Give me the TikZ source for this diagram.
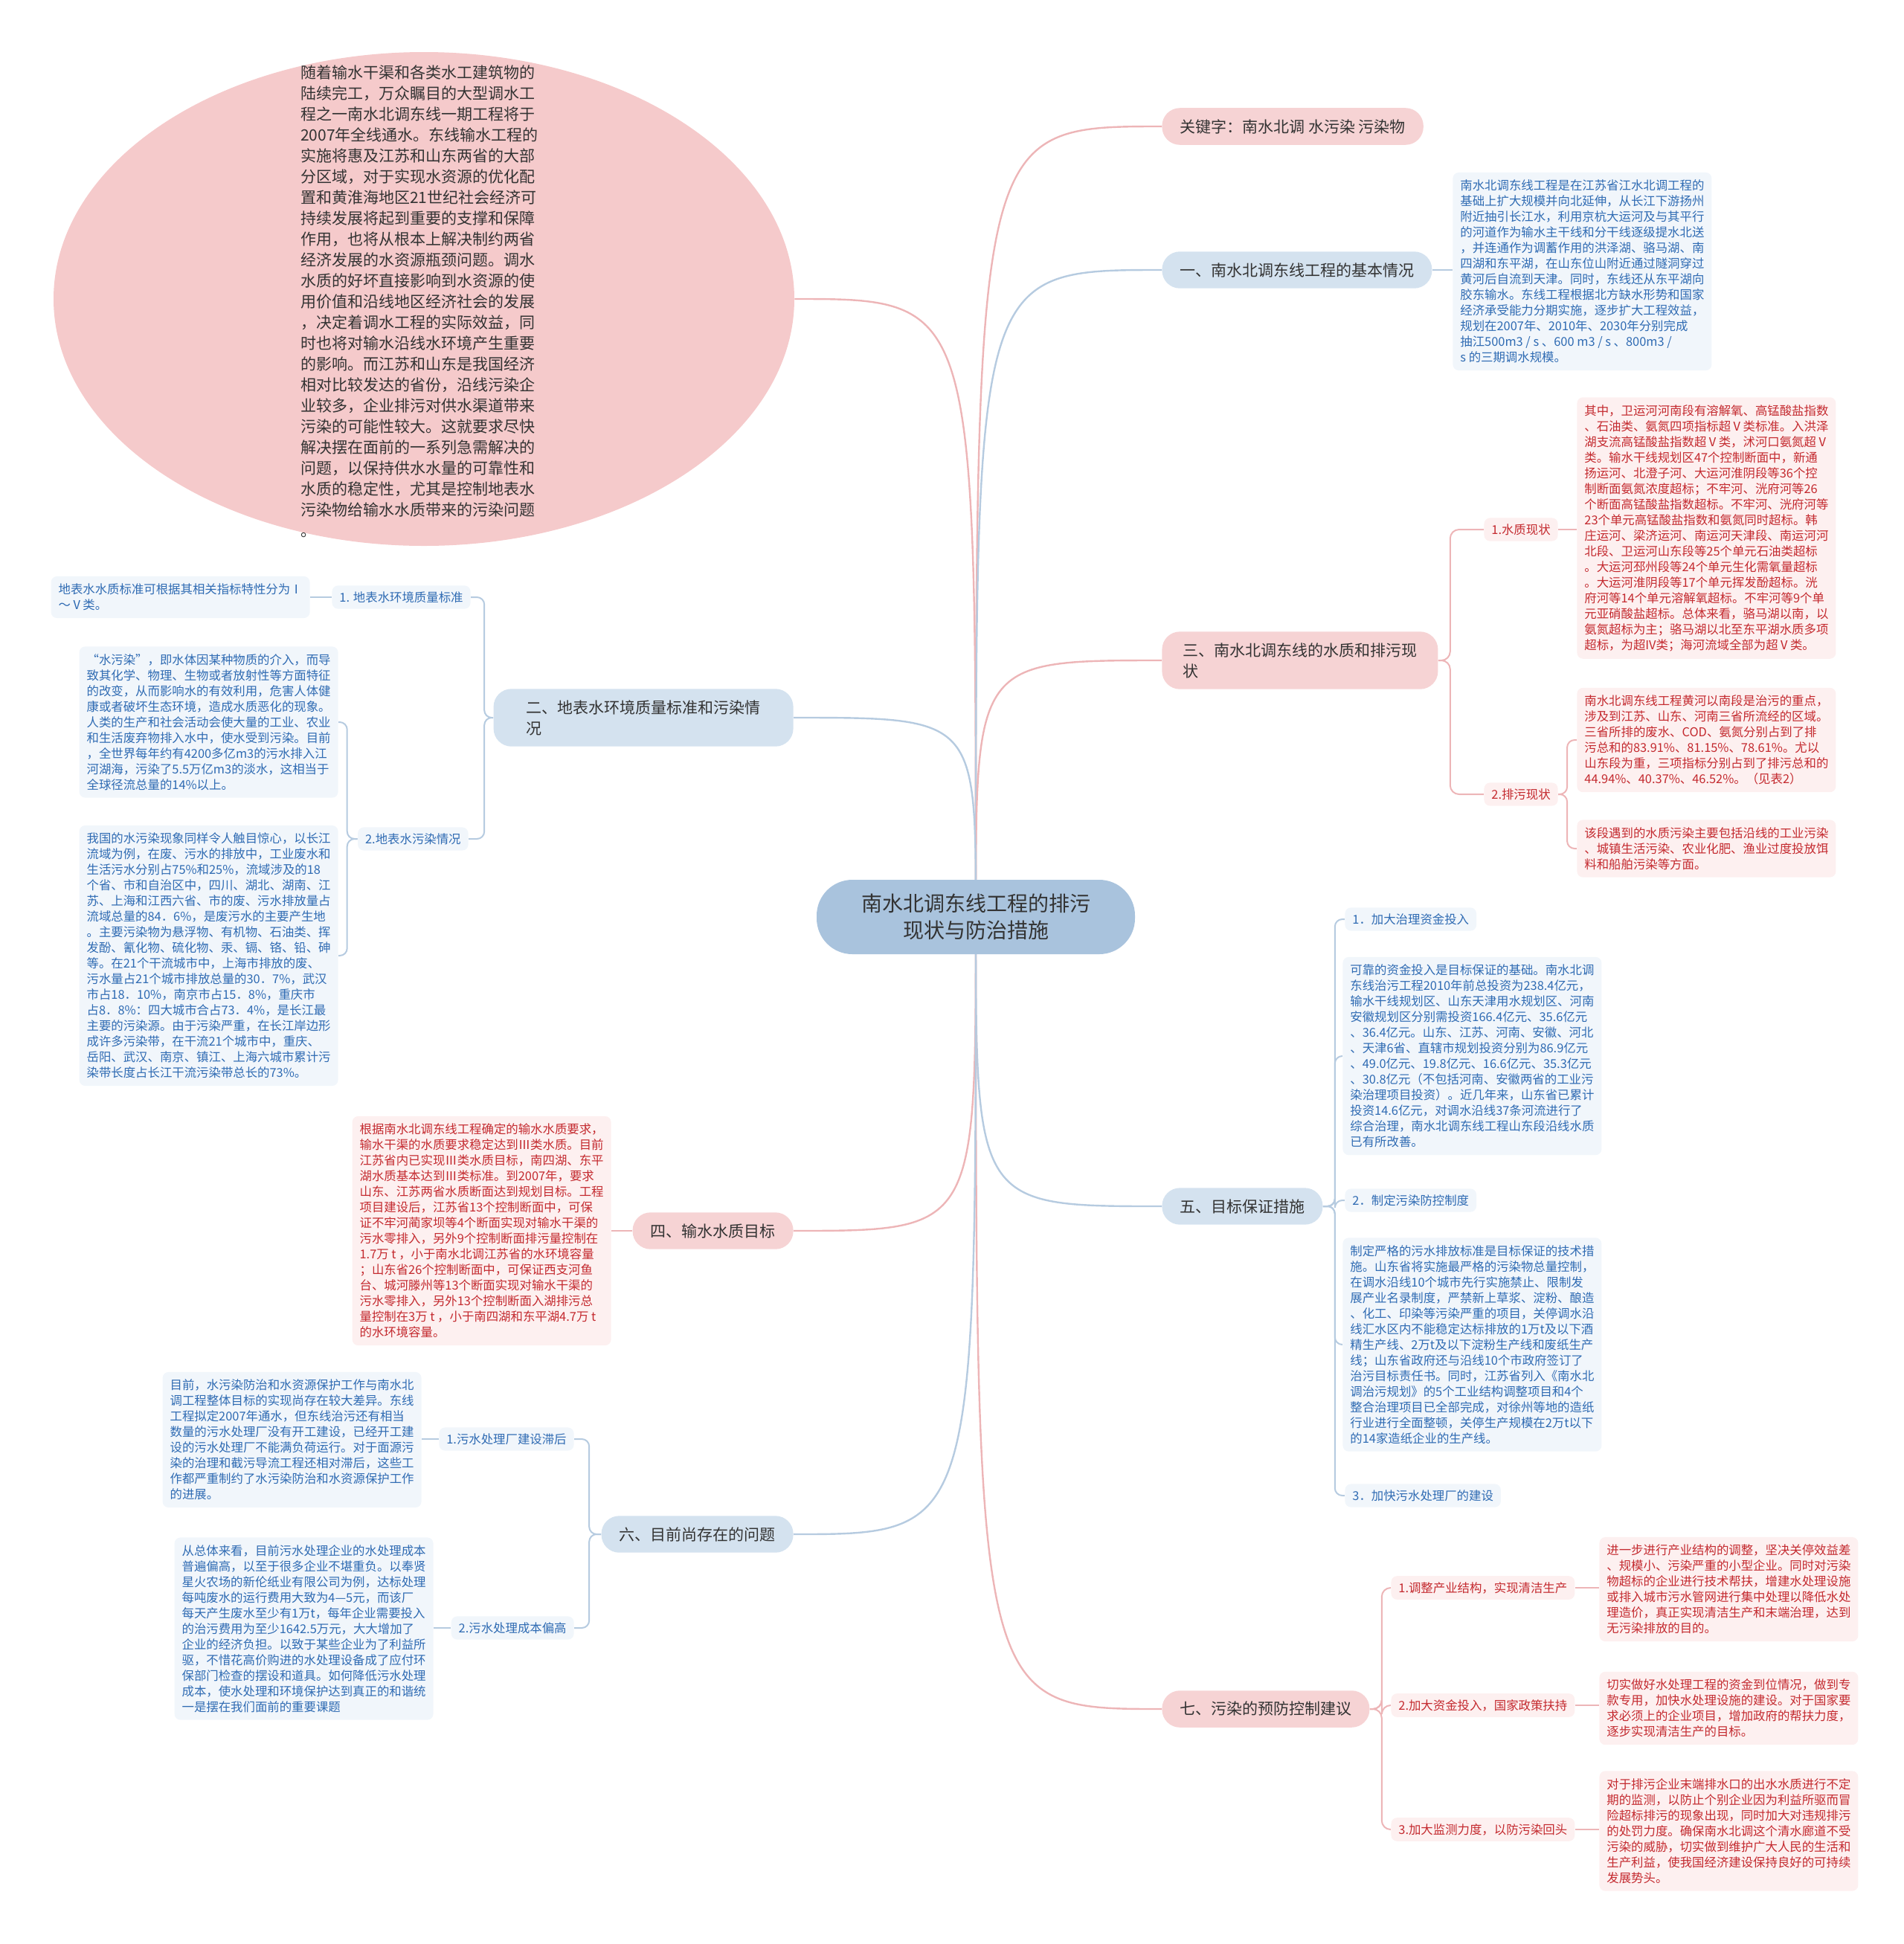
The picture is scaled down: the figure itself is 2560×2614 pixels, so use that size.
\documentclass[tikz,border=0pt]{standalone}
\usepackage{fontspec}
\setmainfont{Noto Sans CJK SC}
\usepackage{tikz}
\usetikzlibrary{shapes.geometric,backgrounds}
\definecolor{rootfill}{HTML}{A9C3DD}
\definecolor{bluefill}{HTML}{D4E2EF}
\definecolor{pinkfill}{HTML}{F6D3D4}
\definecolor{leadfill}{HTML}{F5CACB}
\definecolor{bluebox}{HTML}{F1F6FB}
\definecolor{pinkbox}{HTML}{FDF0F0}
\definecolor{bluetext}{HTML}{2F6BB3}
\definecolor{redtext}{HTML}{C42A2F}
\definecolor{bluelink}{HTML}{B6CBE0}
\definecolor{pinklink}{HTML}{EDB5B7}
\definecolor{ink}{HTML}{333333}

\tikzset{
  branch/.style={rounded corners=12pt, inner xsep=12pt, inner ysep=7.5pt, align=left,
    text=ink, font=\fontsize{10.5}{14}\selectfont},
  bluebranch/.style={branch, fill=bluefill},
  pinkbranch/.style={branch, fill=pinkfill},
  memo/.style={rounded corners=4pt, inner sep=5pt, align=left, font=\fontsize{8.2}{10.5}\selectfont},
  bluememo/.style={memo, fill=bluebox, text=bluetext},
  redmemo/.style={memo, fill=pinkbox, text=redtext},
  leaf/.style={rounded corners=4pt, inner xsep=5pt, inner ysep=4pt, font=\fontsize{8.2}{10.5}\selectfont},
  blueleaf/.style={leaf, fill=bluebox, text=bluetext},
  redleaf/.style={leaf, fill=pinkbox, text=redtext},
  bluewire/.style={draw=bluelink, line width=1pt},
  pinkwire/.style={draw=pinklink, line width=1pt},
  trunk/.style={line width=1.2pt},
}

\begin{document}
\begin{tikzpicture}[x=0.5pt,y=-0.5pt]
  \useasboundingbox (0,0) rectangle (2560,2614);

  % root
  \node[rounded corners=24pt, fill=rootfill, text=ink, align=center, inner xsep=30pt, inner ysep=9.5pt,
    font=\fontsize{14}{18}\selectfont] (root) at (1312,1233) {南水北调东线工程的排污\\现状与防治措施};

  % lead ellipse
  \node[ellipse, fill=leadfill, minimum width=498pt, minimum height=332pt, inner sep=0] (lead) at (570,402) {};
  \node[align=left, text=ink, inner sep=0, font=\fontsize{10.5}{14}\selectfont] (leadtext) at (564,405) {随着输水干渠和各类水工建筑物的\\陆续完工，万众瞩目的大型调水工\\程之一南水北调东线一期工程将于\\2007年全线通水。东线输水工程的\\实施将惠及江苏和山东两省的大部\\分区域，对于实现水资源的优化配\\置和黄淮海地区21世纪社会经济可\\持续发展将起到重要的支撑和保障\\作用，也将从根本上解决制约两省\\经济发展的水资源瓶颈问题。调水\\水质的好坏直接影响到水资源的使\\用价值和沿线地区经济社会的发展\\，决定着调水工程的实际效益，同\\时也将对输水沿线水环境产生重要\\的影响。而江苏和山东是我国经济\\相对比较发达的省份，沿线污染企\\业较多，企业排污对供水渠道带来\\污染的可能性较大。这就要求尽快\\解决摆在面前的一系列急需解决的\\问题，以保持供水水量的可靠性和\\水质的稳定性，尤其是控制地表水\\污染物给输水水质带来的污染问题\\。};

  % right branches
  \node[pinkbranch, anchor=west] (kw) at (1562,170) {关键字：南水北调 水污染 污染物};
  \node[bluebranch, anchor=west] (s1) at (1562,363) {一、南水北调东线工程的基本情况};
  \node[pinkbranch, anchor=west, inner xsep=14pt] (s3) at (1562,888) {三、南水北调东线的水质和排污现\\状};
  \node[bluebranch, anchor=west] (s5) at (1562,1622) {五、目标保证措施};
  \node[pinkbranch, anchor=west] (s7) at (1562,2298) {七、污染的预防控制建议};

  % left branches
  \node[bluebranch, anchor=east, inner xsep=22pt] (s2) at (1067,965) {二、地表水环境质量标准和污染情\\况};
  \node[pinkbranch, anchor=east] (s4) at (1067,1655) {四、输水水质目标};
  \node[bluebranch, anchor=east] (s6) at (1067,2063) {六、目前尚存在的问题};

  % section 1
  \node[bluememo, anchor=west] (s1text) at (1953,365) {南水北调东线工程是在江苏省江水北调工程的\\基础上扩大规模并向北延伸，从长江下游扬州\\附近抽引长江水，利用京杭大运河及与其平行\\的河道作为输水主干线和分干线逐级提水北送\\，并连通作为调蓄作用的洪泽湖、骆马湖、南\\四湖和东平湖，在山东位山附近通过隧洞穿过\\黄河后自流到天津。同时，东线还从东平湖向\\胶东输水。东线工程根据北方缺水形势和国家\\经济承受能力分期实施，逐步扩大工程效益，\\规划在2007年、2010年、2030年分别完成\\抽江500m3 / s 、600 m3 / s 、800m3 /\\ s 的三期调水规模。};

  % section 3
  \node[redleaf, anchor=west] (q1) at (1995,712) {1.水质现状};
  \node[redleaf, anchor=west] (q2) at (1995,1068) {2.排污现状};
  \node[redmemo, anchor=west] (q1text) at (2120,710) {其中，卫运河河南段有溶解氧、高锰酸盐指数\\、石油类、氨氮四项指标超Ⅴ类标准。入洪泽\\湖支流高锰酸盐指数超Ⅴ类，沭河口氨氮超Ⅴ\\类。输水干线规划区47个控制断面中，新通\\扬运河、北澄子河、大运河淮阴段等36个控\\制断面氨氮浓度超标；不牢河、洸府河等26\\个断面高锰酸盐指数超标。不牢河、洸府河等\\23个单元高锰酸盐指数和氨氮同时超标。韩\\庄运河、梁济运河、南运河天津段、南运河河\\北段、卫运河山东段等25个单元石油类超标\\。大运河邳州段等24个单元生化需氧量超标\\。大运河淮阴段等17个单元挥发酚超标。洸\\府河等14个单元溶解氧超标。不牢河等9个单\\元亚硝酸盐超标。总体来看，骆马湖以南，以\\氨氮超标为主；骆马湖以北至东平湖水质多项\\超标，为超IV类；海河流域全部为超Ⅴ类。};
  \node[redmemo, anchor=west] (q2a) at (2120,995) {南水北调东线工程黄河以南段是治污的重点，\\涉及到江苏、山东、河南三省所流经的区域。\\三省所排的废水、COD、氨氮分别占到了排\\污总和的83.91\%、81.15\%、78.61\%。尤以\\山东段为重，三项指标分别占到了排污总和的\\44.94\%、40.37\%、46.52\%。（见表2）};
  \node[redmemo, anchor=west] (q2b) at (2120,1141) {该段遇到的水质污染主要包括沿线的工业污染\\、城镇生活污染、农业化肥、渔业过度投放饵\\料和船舶污染等方面。};

  % section 5
  \node[blueleaf, anchor=west] (g1) at (1808,1236) {1．加大治理资金投入};
  \node[bluememo, anchor=west] (g1text) at (1805,1420) {可靠的资金投入是目标保证的基础。南水北调\\东线治污工程2010年前总投资为238.4亿元，\\输水干线规划区、山东天津用水规划区、河南\\安徽规划区分别需投资166.4亿元、35.6亿元\\、36.4亿元。山东、江苏、河南、安徽、河北\\、天津6省、直辖市规划投资分别为86.9亿元\\、49.0亿元、19.8亿元、16.6亿元、35.3亿元\\、30.8亿元（不包括河南、安徽两省的工业污\\染治理项目投资）。近几年来，山东省已累计\\投资14.6亿元，对调水沿线37条河流进行了\\综合治理，南水北调东线工程山东段沿线水质\\已有所改善。};
  \node[blueleaf, anchor=west] (g2) at (1808,1614) {2．制定污染防控制度};
  \node[bluememo, anchor=west] (g2text) at (1805,1808) {制定严格的污水排放标准是目标保证的技术措\\施。山东省将实施最严格的污染物总量控制，\\在调水沿线10个城市先行实施禁止、限制发\\展产业名录制度，严禁新上草浆、淀粉、酿造\\、化工、印染等污染严重的项目，关停调水沿\\线汇水区内不能稳定达标排放的1万t及以下酒\\精生产线、2万t及以下淀粉生产线和废纸生产\\线；山东省政府还与沿线10个市政府签订了\\治污目标责任书。同时，江苏省列入《南水北\\调治污规划》的5个工业结构调整项目和4个\\整合治理项目已全部完成，对徐州等地的造纸\\行业进行全面整顿，关停生产规模在2万t以下\\的14家造纸企业的生产线。};
  \node[blueleaf, anchor=west] (g3) at (1808,2011) {3．加快污水处理厂的建设};

  % section 7
  \node[redleaf, anchor=west] (r1) at (1870,2135) {1.调整产业结构，实现清洁生产};
  \node[redleaf, anchor=west] (r2) at (1870,2293) {2.加大资金投入，国家政策扶持};
  \node[redleaf, anchor=west] (r3) at (1870,2460) {3.加大监测力度，以防污染回头};
  \node[redmemo, anchor=west] (r1text) at (2150,2137) {进一步进行产业结构的调整，坚决关停效益差\\、规模小、污染严重的小型企业。同时对污染\\物超标的企业进行技术帮扶，增建水处理设施\\或排入城市污水管网进行集中处理以降低水处\\理造价，真正实现清洁生产和末端治理，达到\\无污染排放的目的。};
  \node[redmemo, anchor=west] (r2text) at (2150,2297) {切实做好水处理工程的资金到位情况，做到专\\款专用，加快水处理设施的建设。对于国家要\\求必须上的企业项目，增加政府的帮扶力度，\\逐步实现清洁生产的目标。};
  \node[redmemo, anchor=west] (r3text) at (2150,2462) {对于排污企业末端排水口的出水水质进行不定\\期的监测，以防止个别企业因为利益所驱而冒\\险超标排污的现象出现，同时加大对违规排污\\的处罚力度。确保南水北调这个清水廊道不受\\污染的威胁，切实做到维护广大人民的生活和\\生产利益，使我国经济建设保持良好的可持续\\发展势头。};

  % section 2
  \node[blueleaf, anchor=east] (p1) at (633,803) {1. 地表水环境质量标准};
  \node[blueleaf, anchor=east] (p2) at (630,1128) {2.地表水污染情况};
  \node[bluememo, anchor=east] (p1text) at (417,803) {地表水水质标准可根据其相关指标特性分为Ⅰ\\～Ⅴ类。};
  \node[bluememo, anchor=east] (p2a) at (455,971) {“水污染”，即水体因某种物质的介入，而导\\致其化学、物理、生物或者放射性等方面特征\\的改变，从而影响水的有效利用，危害人体健\\康或者破坏生态环境，造成水质恶化的现象。\\人类的生产和社会活动会使大量的工业、农业\\和生活废弃物排入水中，使水受到污染。目前\\，全世界每年约有4200多亿m3的污水排入江\\河湖海，污染了5.5万亿m3的淡水，这相当于\\全球径流总量的14\%以上。};
  \node[bluememo, anchor=east] (p2b) at (455,1285) {我国的水污染现象同样令人触目惊心，以长江\\流域为例，在废、污水的排放中，工业废水和\\生活污水分别占75\%和25\%，流域涉及的18\\个省、市和自治区中，四川、湖北、湖南、江\\苏、上海和江西六省、市的废、污水排放量占\\流域总量的84．6\%，是废污水的主要产生地\\。主要污染物为悬浮物、有机物、石油类、挥\\发酚、氰化物、硫化物、汞、镉、铬、铅、砷\\等。在21个干流城市中，上海市排放的废、\\污水量占21个城市排放总量的30．7\%，武汉\\市占18．10\%，南京市占15．8\%，重庆市\\占8．8\%：四大城市合占73．4\%，是长江最\\主要的污染源。由于污染严重，在长江岸边形\\成许多污染带，在干流21个城市中，重庆、\\岳阳、武汉、南京、镇江、上海六城市累计污\\染带长度占长江干流污染带总长的73\%。};

  % section 4
  \node[redmemo, anchor=east] (s4text) at (822,1655) {根据南水北调东线工程确定的输水水质要求，\\输水干渠的水质要求稳定达到Ⅲ类水质。目前\\江苏省内已实现Ⅲ类水质目标，南四湖、东平\\湖水质基本达到Ⅲ类标准。到2007年，要求\\山东、江苏两省水质断面达到规划目标。工程\\项目建设后，江苏省13个控制断面中，可保\\证不牢河蔺家坝等4个断面实现对输水干渠的\\污水零排入，另外9个控制断面排污量控制在\\1.7万 t ，小于南水北调江苏省的水环境容量\\；山东省26个控制断面中，可保证西支河鱼\\台、城河滕州等13个断面实现对输水干渠的\\污水零排入，另外13个控制断面入湖排污总\\量控制在3万 t ，小于南四湖和东平湖4.7万 t\\的水环境容量。};

  % section 6
  \node[blueleaf, anchor=east] (u1) at (772,1935) {1.污水处理厂建设滞后};
  \node[blueleaf, anchor=east] (u2) at (772,2189) {2.污水处理成本偏高};
  \node[bluememo, anchor=east] (u1text) at (567,1936) {目前，水污染防治和水资源保护工作与南水北\\调工程整体目标的实现尚存在较大差异。东线\\工程拟定2007年通水，但东线治污还有相当\\数量的污水处理厂没有开工建设，已经开工建\\设的污水处理厂不能满负荷运行。对于面源污\\染的治理和截污导流工程还相对滞后，这些工\\作都严重制约了水污染防治和水资源保护工作\\的进展。};
  \node[bluememo, anchor=east] (u2text) at (583,2190) {从总体来看，目前污水处理企业的水处理成本\\普遍偏高，以至于很多企业不堪重负。以奉贤\\星火农场的新伦纸业有限公司为例，达标处理\\每吨废水的运行费用大致为4—5元，而该厂\\每天产生废水至少有1万t，每年企业需要投入\\的治污费用为至少1642.5万元，大大增加了\\企业的经济负担。以致于某些企业为了利益所\\驱，不惜花高价购进的水处理设备成了应付环\\保部门检查的摆设和道具。如何降低污水处理\\成本，使水处理和环境保护达到真正的和谐统\\一是摆在我们面前的重要课题};

  \begin{scope}[on background layer]
    % trunk links
    \draw[pinkwire, trunk] (root.center) .. controls (root.center |- lead.east) .. (lead.east);
    \draw[pinkwire, trunk] (root.center) .. controls (root.center |- kw.west) .. (kw.west);
    \draw[bluewire, trunk] (root.center) .. controls (root.center |- s1.west) .. (s1.west);
    \draw[pinkwire, trunk] (root.center) .. controls (root.center |- s3.west) .. (s3.west);
    \draw[bluewire, trunk] (root.center) .. controls (root.center |- s5.west) .. (s5.west);
    \draw[pinkwire, trunk] (root.center) .. controls (root.center |- s7.west) .. (s7.west);
    \draw[bluewire, trunk] (root.center) .. controls (root.center |- s2.east) .. (s2.east);
    \draw[pinkwire, trunk] (root.center) .. controls (root.center |- s4.east) .. (s4.east);
    \draw[bluewire, trunk] (root.center) .. controls (root.center |- s6.east) .. (s6.east);

    % single children
    \draw[bluewire] (s1.east) -- (s1.east -| s1text.west);
    \draw[pinkwire] (q1.east) -- (q1.east -| q1text.west);
    \draw[pinkwire] (s4.west) -- (s4.west -| s4text.east);
    \draw[bluewire] (p1.west) -- (p1.west -| p1text.east);
    \draw[bluewire] (u1.west) -- (u1.west -| u1text.east);
    \draw[bluewire] (u2.west) -- (u2.west -| u2text.east);
    \draw[pinkwire] (r1.east) -- (r1.east -| r1text.west);
    \draw[pinkwire] (r2.east) -- (r2.east -| r2text.west);
    \draw[pinkwire] (r3.east) -- (r3.east -| r3text.west);

    % brackets
    \draw[pinkwire, rounded corners=6pt] (s3.east) -- ++(16,0) |- (q1.west);
    \draw[pinkwire, rounded corners=6pt] (s3.east) -- ++(16,0) |- (q2.west);
    \draw[pinkwire, rounded corners=5pt] (q2.east) -- ++(12,0) |- (q2a.west);
    \draw[pinkwire, rounded corners=5pt] (q2.east) -- ++(12,0) |- (q2b.west);
    \draw[bluewire, rounded corners=5pt] (s5.east) -- ++(16,0) |- (g1.west);
    \draw[bluewire, rounded corners=5pt] (s5.east) -- ++(16,0) |- (g1text.west);
    \draw[bluewire, rounded corners=5pt] (s5.east) -- ++(16,0) |- (g2.west);
    \draw[bluewire, rounded corners=5pt] (s5.east) -- ++(16,0) |- (g2text.west);
    \draw[bluewire, rounded corners=5pt] (s5.east) -- ++(16,0) |- (g3.west);
    \draw[pinkwire, rounded corners=6pt] (s7.east) -- ++(16,0) |- (r1.west);
    \draw[pinkwire, rounded corners=6pt] (s7.east) -- ++(16,0) |- (r2.west);
    \draw[pinkwire, rounded corners=6pt] (s7.east) -- ++(16,0) |- (r3.west);
    \draw[bluewire, rounded corners=5pt] (s2.west) -- ++(-12,0) |- (p1.east);
    \draw[bluewire, rounded corners=5pt] (s2.west) -- ++(-12,0) |- (p2.east);
    \draw[bluewire, rounded corners=5pt] (p2.west) -- ++(-14,0) |- (p2a.east);
    \draw[bluewire, rounded corners=5pt] (p2.west) -- ++(-14,0) |- (p2b.east);
    \draw[bluewire, rounded corners=5pt] (s6.west) -- ++(-16,0) |- (u1.east);
    \draw[bluewire, rounded corners=5pt] (s6.west) -- ++(-16,0) |- (u2.east);
  \end{scope}
\end{tikzpicture}
\end{document}
